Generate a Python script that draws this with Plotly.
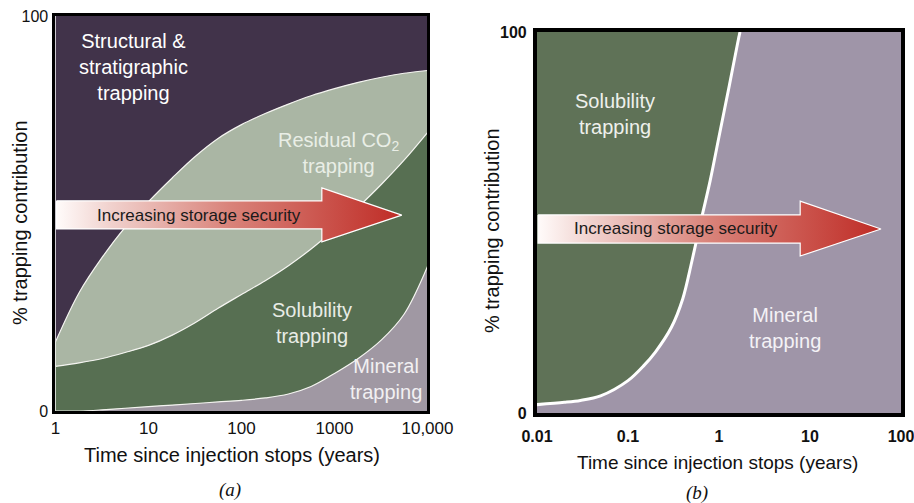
import plotly.graph_objects as go

FONT = "Liberation Sans, Arial, Helvetica, sans-serif"

# ---------------- Panel (a) data: % trapping contribution by mechanism ----------------
a_years = [1, 1.8, 3.2, 5.6, 10, 18, 32, 56, 100, 180, 320, 560, 1000, 1800, 3200, 5600, 10000]
a_mineral = [0, 0, 0.3, 0.7, 1.1, 1.5, 1.9, 2.3, 2.7, 3.3, 4.3, 6.2, 9.5, 13.3, 18.0, 24.5, 36.6]
a_solubility = [11.3, 12.2, 13.0, 14.1, 15.5, 17.7, 20.5, 23.7, 26.8, 29.7, 32.5, 34.8, 36.5, 38.3, 39.4, 39.0, 33.9]
a_residual = [6.2, 17.8, 25.7, 31.7, 36.4, 39.8, 42.1, 43.0, 43.0, 42.3, 40.9, 38.8, 35.6, 31.6, 27.1, 22.0, 15.7]
a_structural = [82.5, 70, 61, 53.5, 47, 41, 35.5, 31, 27.5, 24.7, 22.3, 20.2, 18.4, 16.8, 15.5, 14.5, 13.8]
a_ticks = [1, 10, 100, 1000, 10000]
a_ticktext = ["1", "10", "100", "1000", "10,000"]

# ---------------- Panel (b) data ----------------
b_years = [0.01, 0.02, 0.03, 0.05, 0.1, 0.15, 0.2, 0.3, 0.4, 0.5, 0.6, 0.8, 1.0, 1.3, 1.6, 1.7, 100]
b_mineral = [2.2, 2.8, 3.3, 4.5, 8.5, 12.5, 16, 22.5, 30, 39.5, 48, 61, 72.5, 86, 97, 100, 100]
b_solubility = [100 - m for m in b_mineral]
b_ticks = [0.01, 0.1, 1, 10, 100]
b_ticktext = ["0.01", "0.1", "1", "10", "100"]

# colours
C_STRUCT = "#41334a"
C_RESID = "#aab6a4"
C_SOLU_A = "#576f52"
C_MIN_A = "#a098a3"
C_SOLU_B = "#5f7257"
C_MIN_B = "#9f95a8"

fig = go.Figure()

# panel (a) stacked areas
for vals, col, lw in [
    (a_mineral, C_MIN_A, 1.2),
    (a_solubility, C_SOLU_A, 1.2),
    (a_residual, C_RESID, 1.2),
    (a_structural, C_STRUCT, 0),
]:
    fig.add_trace(go.Scatter(
        x=a_years, y=vals, stackgroup="a", mode="lines",
        line=dict(color="#f4f4f0", width=lw, shape="spline", smoothing=1.0),
        fillcolor=col, xaxis="x", yaxis="y", hoverinfo="skip", showlegend=False,
    ))

# panel (b) stacked areas
for vals, col in [(b_mineral, C_MIN_B), (b_solubility, C_SOLU_B)]:
    fig.add_trace(go.Scatter(
        x=b_years, y=vals, stackgroup="b", mode="lines",
        line=dict(width=0, shape="spline", smoothing=0.9),
        fillcolor=col, xaxis="x2", yaxis="y2", hoverinfo="skip", showlegend=False,
    ))
# white boundary line in panel (b), until mineral trapping reaches 100 %
k = b_mineral.index(100) + 1
fig.add_trace(go.Scatter(
    x=b_years[:k], y=b_mineral[:k], mode="lines",
    line=dict(color="white", width=3, shape="spline", smoothing=0.9),
    xaxis="x2", yaxis="y2", hoverinfo="skip", showlegend=False,
))

# arrows (in plot-fraction coordinates on overlay axes)
arrow_grad = dict(type="horizontal",
                  colorscale=[[0, "#fffbfa"], [0.15, "#f1d3cf"], [0.5, "#d9837a"], [1, "#bf2c26"]])
arrow_a_x = [0.003, 0.716, 0.716, 0.931, 0.716, 0.716, 0.003, 0.003]
arrow_a_y = [0.532, 0.532, 0.565, 0.496, 0.428, 0.461, 0.461, 0.532]
arrow_b_x = [0.003, 0.723, 0.723, 0.945, 0.723, 0.723, 0.003, 0.003]
arrow_b_y = [0.520, 0.520, 0.556, 0.483, 0.412, 0.446, 0.446, 0.520]
fig.add_trace(go.Scatter(x=arrow_a_x, y=arrow_a_y, fill="toself", fillgradient=arrow_grad,
                         mode="lines", line=dict(color="white", width=1.2),
                         xaxis="x3", yaxis="y3", hoverinfo="skip", showlegend=False))
fig.add_trace(go.Scatter(x=arrow_b_x, y=arrow_b_y, fill="toself", fillgradient=arrow_grad,
                         mode="lines", line=dict(color="white", width=1.2),
                         xaxis="x4", yaxis="y4", hoverinfo="skip", showlegend=False))

frame_a = dict(showline=True, linecolor="black", linewidth=3, mirror=True,
               showgrid=False, zeroline=False, ticks="")
frame_b = dict(showline=True, linecolor="black", linewidth=4, mirror=True,
               showgrid=False, zeroline=False, ticks="")

fig.update_layout(
    width=914, height=503,
    margin=dict(l=0, r=0, t=0, b=0),
    paper_bgcolor="white", plot_bgcolor="rgba(0,0,0,0)",
    showlegend=False,
    font=dict(family=FONT, color="#111111"),
    xaxis=dict(domain=[0.0607, 0.4677], type="log", range=[0, 4], tickvals=a_ticks,
               ticktext=a_ticktext, tickfont=dict(size=17, color="#111"), anchor="y",
               automargin=False, ticklabeloverflow="allow", **frame_a),
    yaxis=dict(domain=[0.1829, 0.9682], range=[0, 100], tickvals=[0, 100],
               tickfont=dict(size=16, color="#111"), anchor="x", automargin=False,
               ticklabelstandoff=1, **frame_a),
    xaxis2=dict(domain=[0.5875, 0.9858], type="log", range=[-2, 2], tickvals=b_ticks,
                ticktext=b_ticktext, tickfont=dict(size=16, color="#111", weight="bold"),
                anchor="y2", automargin=False, ticklabelstandoff=6,
                ticklabeloverflow="allow", **frame_b),
    yaxis2=dict(domain=[0.1789, 0.9364], range=[0, 100], tickvals=[0, 100],
                tickfont=dict(size=16, color="#111", weight="bold"), anchor="x2",
                automargin=False, ticklabelstandoff=3, **frame_b),
    xaxis3=dict(overlaying="x", range=[0, 1], visible=False, anchor="y3"),
    yaxis3=dict(overlaying="y", range=[0, 1], visible=False, anchor="x3"),
    xaxis4=dict(overlaying="x2", range=[0, 1], visible=False, anchor="y4"),
    yaxis4=dict(overlaying="y2", range=[0, 1], visible=False, anchor="x4"),
)

ann = []
def lab(text, x, y, xref, yref, size, color="white", **kw):
    d = dict(text=text, x=x, y=y, xref=xref, yref=yref, showarrow=False,
             font=dict(size=size, color=color, family=FONT), xanchor="center", yanchor="middle")
    d.update(kw)
    ann.append(d)

# panel (a) labels
lab("Structural &<br>stratigraphic<br>trapping", 0.21, 0.87, "x3", "y3", 20)
lab("Residual CO<sub>2</sub><br>trapping", 0.76, 0.654, "x3", "y3", 20, color="#e9eee6")
lab("Solubility<br>trapping", 0.69, 0.223, "x3", "y3", 20, color="#e8ece6")
lab("Mineral<br>trapping", 0.888, 0.08, "x3", "y3", 20, color="#f2f0f2")
lab("Increasing storage security", 0.386, 0.496, "x3", "y3", 17, color="#1a1a1a")
# panel (b) labels
lab("Solubility<br>trapping", 0.214, 0.785, "x4", "y4", 20, color="#eef0ec")
lab("Mineral<br>trapping", 0.68, 0.223, "x4", "y4", 20, color="#f4f2f6")
lab("Increasing storage security", 0.382, 0.483, "x4", "y4", 17, color="#1a1a1a")
# axis titles
lab("Time since injection stops (years)", 0.2538, 0.0954, "paper", "paper", 20, color="#111")
lab("% trapping contribution", 0.0219, 0.5567, "paper", "paper", 20, color="#111", textangle=-90)
lab("Time since injection stops (years)", 0.7845, 0.0815, "paper", "paper", 19, color="#111")
lab("% trapping contribution", 0.5383, 0.5408, "paper", "paper", 20, color="#111", textangle=-90)
# captions
for t, x, y in [("(a)", 0.2516, 0.0258), ("(b)", 0.7626, 0.0199)]:
    ann.append(dict(text="<i>" + t + "</i>", x=x, y=y, xref="paper", yref="paper", showarrow=False,
                    font=dict(size=19, color="#111", family="Liberation Serif, Times New Roman, serif"),
                    xanchor="center", yanchor="middle"))

fig.update_layout(annotations=ann)
fig.write_html("out.html")
